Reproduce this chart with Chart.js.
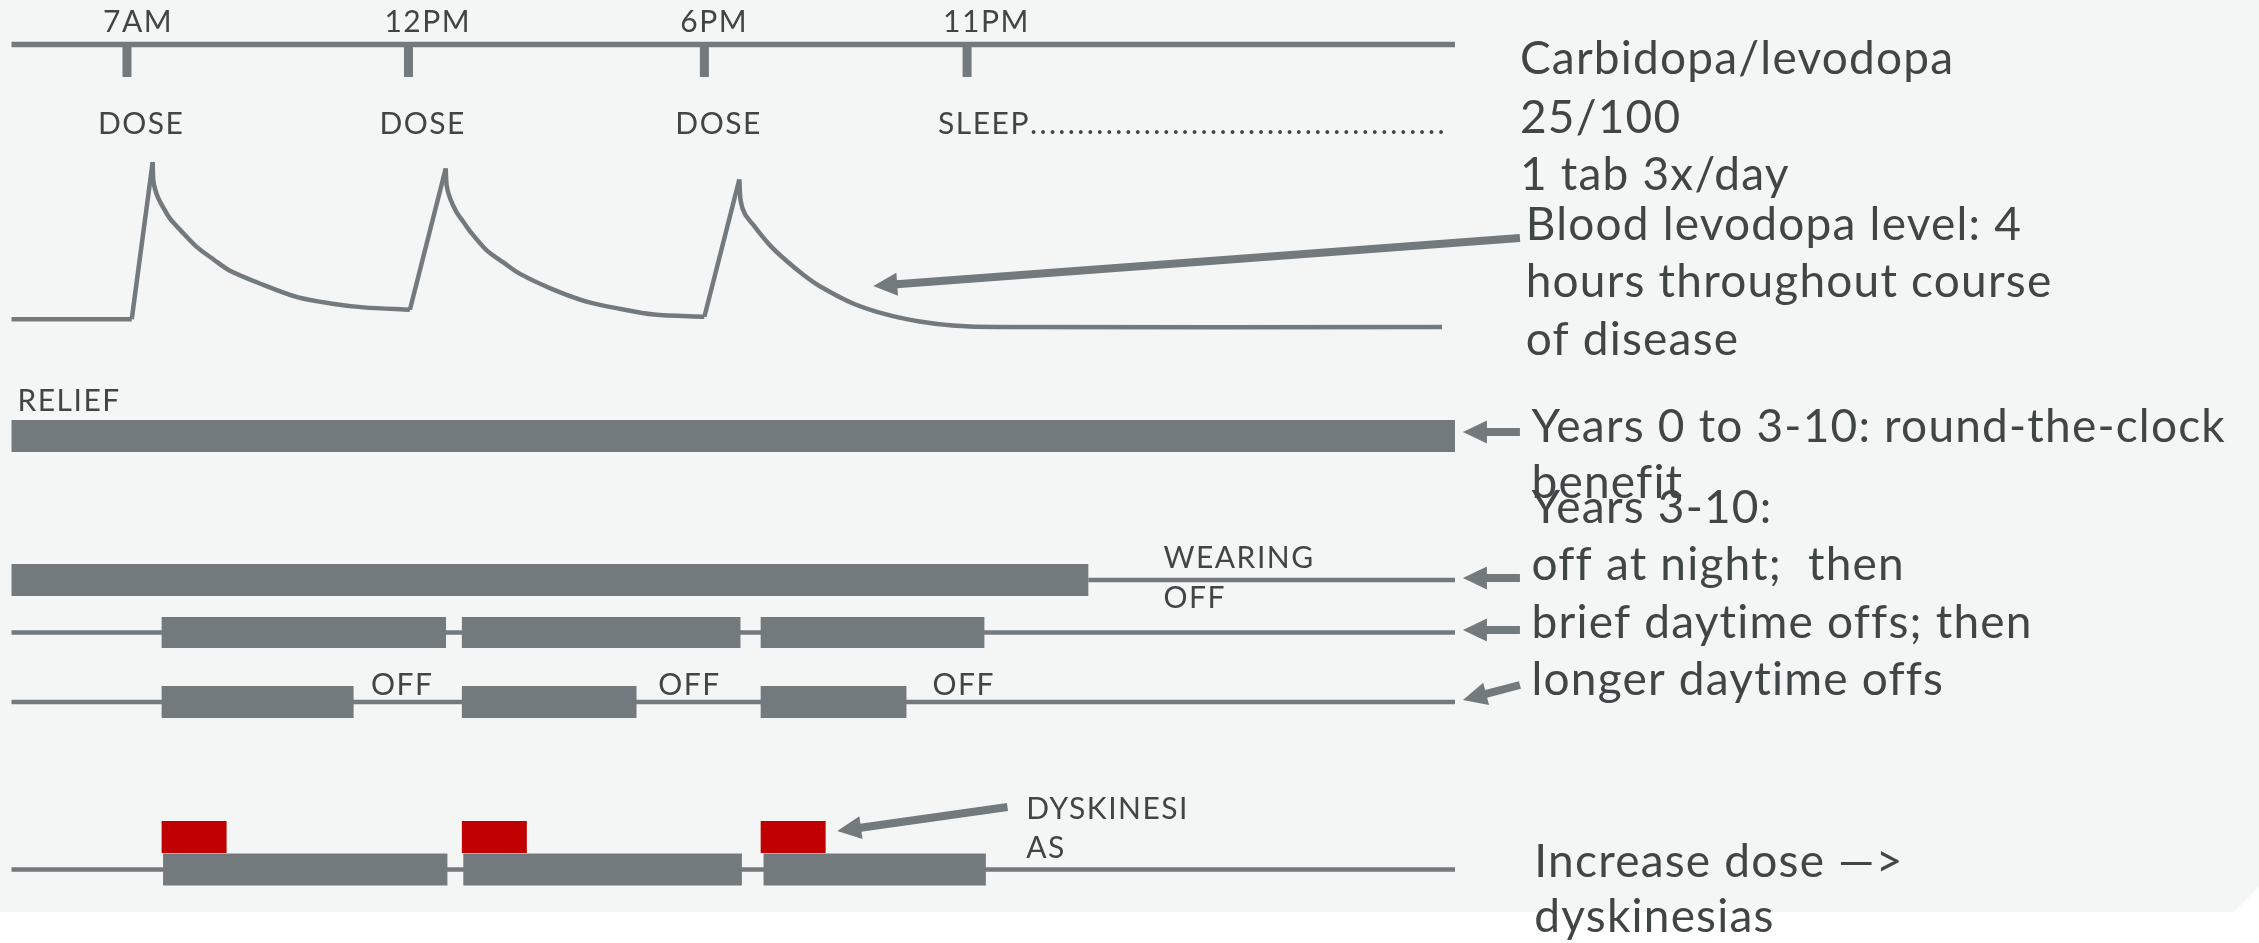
<!DOCTYPE html>
<html>
<head>
<meta charset="utf-8">
<script src="https://cdn.jsdelivr.net/npm/chart.js@4.4.1/dist/chart.umd.min.js"></script>
<style>
  html, body { margin: 0; padding: 0; background: #fff; overflow: hidden; }
  canvas { display: block; }
</style>
</head>
<body>
<canvas id="myChart" width="2259" height="943" style="width:2259px;height:943px"></canvas>
<script>
// time along the day line, 0 = left end, 100 = right end
const timeTicks = [8.0, 27.5, 48.0, 66.2];
const timeLabels = ['7AM', '12PM', '6PM', '11PM'];
const eventLabels = ['DOSE', 'DOSE', 'DOSE', 'SLEEP'];

// blood levodopa level (arbitrary units)
const levelTimes = [0, 8.33,
  9.78, 9.82, 9.94, 10.17, 10.52, 10.98, 11.67, 12.83, 14.0, 15.1, 17.4, 19.8, 22.1, 24.4, 27.6,
  30.08, 30.15, 30.38, 30.84, 31.3, 31.76, 32.9, 34.1, 35.2, 37.5, 39.9, 42.2, 44.5, 48.0,
  50.42, 50.52, 50.81, 51.39, 52.55, 53.7, 54.9, 56.0, 58.3, 60.6, 62.9, 65.2, 68.3, 99.1];
const levelValues = [0.5, 0.5,
  10.5, 9.4, 8.8, 8.2, 7.6, 6.9, 6.2, 5.1, 4.3, 3.6, 2.7, 1.9, 1.5, 1.25, 1.1,
  10.1, 9.0, 8.2, 7.3, 6.7, 6.1, 4.9, 4.1, 3.4, 2.4, 1.6, 1.15, 0.8, 0.65,
  9.4, 8.0, 7.2, 6.5, 5.2, 4.2, 3.3, 2.6, 1.5, 0.8, 0.35, 0.1, 0, 0];

// periods "on" (thick bars) for each stage
const reliefOn = [[0, 100]];
const nightOn = [[0, 74.6]];
const nightOff = [[74.6, 100]];
const briefOn = [[10.4, 30.1], [31.2, 50.5], [51.9, 67.4]];
const longerOn = [[10.4, 23.7], [31.2, 43.3], [51.9, 62.0]];
const dyskOn = [[10.5, 30.2], [31.3, 50.6], [52.1, 67.5]];
const dyskPeaks = [[10.4, 14.9], [31.2, 35.7], [51.9, 56.4]];
const fullDay = [[0, 100]];

const offLabels = ['OFF', 'OFF', 'OFF'];
const offLabelAt = [24.9, 44.8, 63.8];

// layout (pixel rows)
const rows = { axis: 44.5, relief: 436, night: 580, brief: 632.5, longer: 702, dysk: 869.5, peaks: 837 };
const grey = '#737a7d';
const red = '#c00000';
const textDark = '#404545';

function spans(list, row) {
  const pts = [];
  list.forEach(function (s, i) {
    pts.push({ x: s[0], y: row }, { x: s[1], y: row });
    if (i < list.length - 1) pts.push({ x: (s[1] + list[i + 1][0]) / 2, y: null });
  });
  return pts;
}

function track(list, row, width, color, order) {
  return {
    data: spans(list, row),
    borderColor: color || grey,
    borderWidth: width,
    borderCapStyle: 'butt',
    pointRadius: 0,
    showLine: true,
    spanGaps: false,
    tension: 0,
    order: order || 2
  };
}

const tickPoints = [];
timeTicks.forEach(function (t) {
  tickPoints.push({ x: t, y: rows.axis }, { x: t, y: 77 }, { x: t, y: null });
});

// decays drawn smooth, dose rises drawn straight
const decayPoints = [];
const risePoints = [];
levelTimes.forEach(function (t, k) {
  const p = { x: t, y: levelValues[k] };
  decayPoints.push(p);
  if (k < levelTimes.length - 1 && levelValues[k + 1] > levelValues[k] + 1) {
    const gap = { x: (t + levelTimes[k + 1]) / 2, y: null };
    decayPoints.push(gap);
    risePoints.push(p, { x: levelTimes[k + 1], y: levelValues[k + 1] }, gap);
  }
});

const datasets = [
  track(fullDay, rows.axis, 5.5),
  { data: tickPoints, borderColor: grey, borderWidth: 9, borderCapStyle: 'butt', pointRadius: 0, showLine: true, spanGaps: false },
  { data: decayPoints, yAxisID: 'yLevel', borderColor: grey, borderWidth: 4.5, pointRadius: 0, showLine: true, spanGaps: false, tension: 0.3 },
  { data: risePoints, yAxisID: 'yLevel', borderColor: grey, borderWidth: 4.5, pointRadius: 0, showLine: true, spanGaps: false, tension: 0 },
  track(reliefOn, rows.relief, 32, grey, 1),
  track(nightOn, rows.night, 32, grey, 1),
  track(nightOff, rows.night, 4.5),
  track(fullDay, rows.brief, 4.5),
  track(briefOn, rows.brief, 31, grey, 1),
  track(fullDay, rows.longer, 4.5),
  track(longerOn, rows.longer, 32, grey, 1),
  track(fullDay, rows.dysk, 4.5),
  track(dyskOn, rows.dysk, 32, grey, 1),
  track(dyskPeaks, rows.peaks, 32, red, 1)
];

const backdrop = {
  id: 'backdrop',
  beforeDraw(chart) {
    const ctx = chart.ctx;
    ctx.save();
    ctx.fillStyle = '#ffffff';
    ctx.fillRect(0, 0, chart.width, chart.height);
    ctx.fillStyle = '#f4f6f5';
    ctx.beginPath();
    ctx.moveTo(0, 0);
    ctx.lineTo(chart.width, 0);
    ctx.lineTo(chart.width, 887);
    ctx.lineTo(chart.width - 25, 912);
    ctx.lineTo(0, 912);
    ctx.closePath();
    ctx.fill();
    ctx.restore();
  }
};

function arrow(ctx, x1, y1, x2, y2) {
  const ang = Math.atan2(y2 - y1, x2 - x1);
  const len = Math.hypot(x2 - x1, y2 - y1);
  ctx.save();
  ctx.translate(x2, y2);
  ctx.rotate(ang);
  ctx.fillStyle = grey;
  ctx.fillRect(-len, -4, len - 20, 8);
  ctx.beginPath();
  ctx.moveTo(0, 0);
  ctx.lineTo(-24, -11.5);
  ctx.lineTo(-24, 11.5);
  ctx.closePath();
  ctx.fill();
  ctx.restore();
}

const notes = {
  id: 'notes',
  afterDatasetsDraw(chart) {
    const ctx = chart.ctx;
    const xs = chart.scales.x;
    const ys = chart.scales.y;
    const px = function (u) { return xs.getPixelForValue(u); };
    const py = function (v) { return ys.getPixelForValue(v); };
    ctx.save();
    ctx.textBaseline = 'alphabetic';
    ctx.textAlign = 'left';
    ctx.fillStyle = textDark;

    // time labels and events
    ctx.font = '30px Lato';
    ctx.letterSpacing = '1.5px';
    timeTicks.forEach(function (t, i) {
      ctx.fillText(timeLabels[i], px(t) - 24, py(32));
      let s = eventLabels[i];
      const left = px(t) - 29;
      if (s === 'SLEEP') {
        ctx.fillText(s, left, py(134));
        const w = ctx.measureText(s).width;
        ctx.letterSpacing = '2.4px';
        let d = '';
        while (left + w + ctx.measureText(d + '.').width <= px(99.6)) d += '.';
        ctx.fillText(d, left + w, py(134));
        ctx.letterSpacing = '1.5px';
      } else {
        ctx.fillText(s, left, py(134));
      }
    });
    ctx.fillText('RELIEF', px(0) + 6, py(411));
    ctx.fillText('WEARING', px(79.8), py(568));
    ctx.fillText('OFF', px(79.8), py(608));
    offLabels.forEach(function (s, i) { ctx.fillText(s, px(offLabelAt[i]), py(695)); });
    ctx.fillText('DYSKINESI', px(70.3), py(819));
    ctx.fillText('AS', px(70.3), py(858));

    // arrows
    arrow(ctx, px(104.5), py(238), px(59.7), py(286));
    arrow(ctx, px(104.5), py(432), px(100.55), py(432));
    arrow(ctx, px(104.5), py(578), px(100.55), py(578));
    arrow(ctx, px(104.5), py(630), px(100.55), py(630));
    arrow(ctx, px(104.5), py(685), px(100.55), py(700));
    arrow(ctx, px(69.0), py(807), px(57.2), py(831));

    // right-hand notes
    ctx.font = '46px Lato';
    ctx.letterSpacing = '1.2px';
    ctx.fillText('Carbidopa/levodopa', px(104.5), py(74));
    ctx.fillText('25/100', px(104.5), py(133));
    ctx.fillText('1 tab 3x/day', px(104.5), py(190));
    ctx.fillText('Blood levodopa level: 4', px(104.9), py(240));
    ctx.fillText('hours throughout course', px(104.9), py(297));
    ctx.fillText('of disease', px(104.9), py(355));
    ctx.fillText('Years 0 to 3-10: round-the-clock', px(105.3), py(442));
    ctx.fillText('benefit', px(105.3), py(498));
    ctx.fillText('Years 3-10:', px(105.3), py(523));
    ctx.fillText('off at night;  then', px(105.3), py(580));
    ctx.fillText('brief daytime offs; then', px(105.3), py(638));
    ctx.fillText('longer daytime offs', px(105.3), py(695));
    ctx.fillText('Increase dose \u2014>', px(105.5), py(877));
    ctx.fillText('dyskinesias', px(105.5), py(932));
    ctx.restore();
  }
};

function draw() {
  new Chart(document.getElementById('myChart'), {
    type: 'scatter',
    data: { datasets: datasets },
    options: {
      responsive: false,
      animation: false,
      devicePixelRatio: 1,
      events: [],
      layout: { padding: 0 },
      plugins: { legend: { display: false }, tooltip: { enabled: false } },
      scales: {
        x: { type: 'linear', display: false, min: -0.797, max: 155.70 },
        y: { type: 'linear', display: false, min: 0, max: 943, reverse: true },
        yLevel: { type: 'linear', display: false, min: -39.24, max: 20.83 }
      }
    },
    plugins: [backdrop, notes]
  });
}

document.fonts.load('30px Lato').then(draw, draw);
</script>
</body>
</html>
